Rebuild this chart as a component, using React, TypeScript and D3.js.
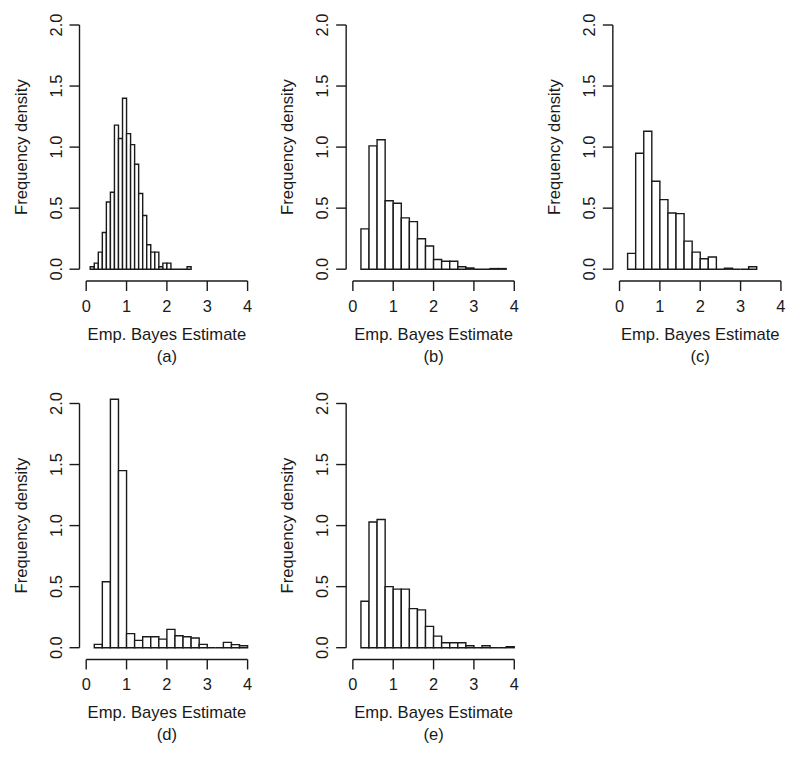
import React from "react";
import * as d3 from "d3";

// ---- data ----
const panelLabels = ["(a)", "(b)", "(c)", "(d)", "(e)"];
const binStarts = [0.1, 0.2, 0.2, 0.2, 0.2];
const binWidths = [0.1, 0.2, 0.2, 0.2, 0.2];

const densityA = [0.02, 0.05, 0.14, 0.30, 0.55, 0.63, 1.18, 1.07, 1.40, 1.11, 1.02, 0.86, 0.62, 0.44, 0.20, 0.14, 0.14, 0.02, 0.05, 0.05, 0, 0, 0, 0, 0.02];
const densityB = [0.33, 1.01, 1.06, 0.56, 0.54, 0.42, 0.39, 0.25, 0.19, 0.08, 0.065, 0.065, 0.02, 0.01, 0, 0, 0.005, 0.005];
const densityC = [0.13, 0.95, 1.13, 0.72, 0.57, 0.46, 0.455, 0.23, 0.14, 0.085, 0.10, 0, 0.008, 0, 0, 0.02];
const densityD = [0.027, 0.54, 2.035, 1.45, 0.115, 0.06, 0.09, 0.09, 0.07, 0.15, 0.098, 0.09, 0.08, 0.027, 0, 0, 0.044, 0.025, 0.016];
const densityE = [0.38, 1.03, 1.05, 0.50, 0.48, 0.48, 0.32, 0.31, 0.175, 0.095, 0.04, 0.04, 0.04, 0.016, 0, 0.016, 0, 0, 0.008];

const xTicks = [0, 1, 2, 3, 4];
const yTicks = [0, 0.5, 1.0, 1.5, 2.0];
const xTitle = "Emp. Bayes Estimate";
const yTitle = "Frequency density";

const allDensities = [densityA, densityB, densityC, densityD, densityE];

const W = 800;
const H = 757;
const cellW = W / 3;
const cellH = H / 2;
const FONT = "'Liberation Sans', Arial, Helvetica, sans-serif";
const INK = "#1a1a1a";

function Panel({ idx }: { idx: number }) {
  const col = idx % 3;
  const row = Math.floor(idx / 3);
  const ox = col * cellW;
  const oy = row * cellH;
  const x = d3.scaleLinear().domain([0, 4]).range([ox + 86.2, ox + 247.6]);
  const y = d3.scaleLinear().domain([0, 2]).range([oy + 269.2, oy + 25]);
  const axisX = ox + 79.5;
  const axisY = oy + 281;
  const tick = 10;
  const values = allDensities[idx];
  const bars = values.map((v, i) => ({
    x0: binStarts[idx] + i * binWidths[idx],
    x1: binStarts[idx] + (i + 1) * binWidths[idx],
    v,
  }));
  const barPath = (b: { x0: number; x1: number; v: number }) => {
    const p = d3.path();
    p.moveTo(x(b.x0), y(0));
    p.lineTo(x(b.x0), y(b.v));
    p.lineTo(x(b.x1), y(b.v));
    p.lineTo(x(b.x1), y(0));
    p.closePath();
    return p.toString();
  };
  const midX = (x(0) + x(4)) / 2;
  const midY = (y(0) + y(2)) / 2;
  return (
    <g>
      {bars.map((b, i) => (
        <path key={i} d={barPath(b)} fill="white" stroke={INK} strokeWidth={1.4} strokeLinejoin="miter" />
      ))}
      {/* y axis */}
      <line x1={axisX} x2={axisX} y1={y(0)} y2={y(2)} stroke={INK} strokeWidth={1.4} />
      {yTicks.map((t) => (
        <g key={t}>
          <line x1={axisX - tick} x2={axisX} y1={y(t)} y2={y(t)} stroke={INK} strokeWidth={1.4} />
          <text
            transform={`translate(${ox + 61.5},${y(t)}) rotate(-90)`}
            textAnchor="middle"
            fontFamily={FONT}
            fontSize={16.4}
            fill={INK}
          >
            {t.toFixed(1)}
          </text>
        </g>
      ))}
      <text
        transform={`translate(${ox + 26.7},${midY}) rotate(-90)`}
        textAnchor="middle"
        fontFamily={FONT}
        fontSize={16.6}
        fill={INK}
      >
        {yTitle}
      </text>
      {/* x axis */}
      <line x1={x(0)} x2={x(4)} y1={axisY} y2={axisY} stroke={INK} strokeWidth={1.4} />
      {xTicks.map((t) => (
        <g key={t}>
          <line x1={x(t)} x2={x(t)} y1={axisY} y2={axisY + tick} stroke={INK} strokeWidth={1.4} />
          <text x={x(t)} y={oy + 311.5} textAnchor="middle" fontFamily={FONT} fontSize={16.4} fill={INK}>
            {t}
          </text>
        </g>
      ))}
      <text x={midX} y={oy + 339.8} textAnchor="middle" fontFamily={FONT} fontSize={16.6} fill={INK}>
        {xTitle}
      </text>
      <text x={midX} y={oy + 361.5} textAnchor="middle" fontFamily={FONT} fontSize={16.6} fill={INK}>
        {panelLabels[idx]}
      </text>
    </g>
  );
}

export default function App() {
  return (
    <div style={{ position: "absolute", left: 0, top: 0, width: W, height: H, background: "white" }}>
      <svg width={W} height={H} viewBox={`0 0 ${W} ${H}`} style={{ display: "block" }}>
        <rect x={0} y={0} width={W} height={H} fill="white" />
        {panelLabels.map((_, i) => (
          <Panel key={i} idx={i} />
        ))}
      </svg>
    </div>
  );
}
